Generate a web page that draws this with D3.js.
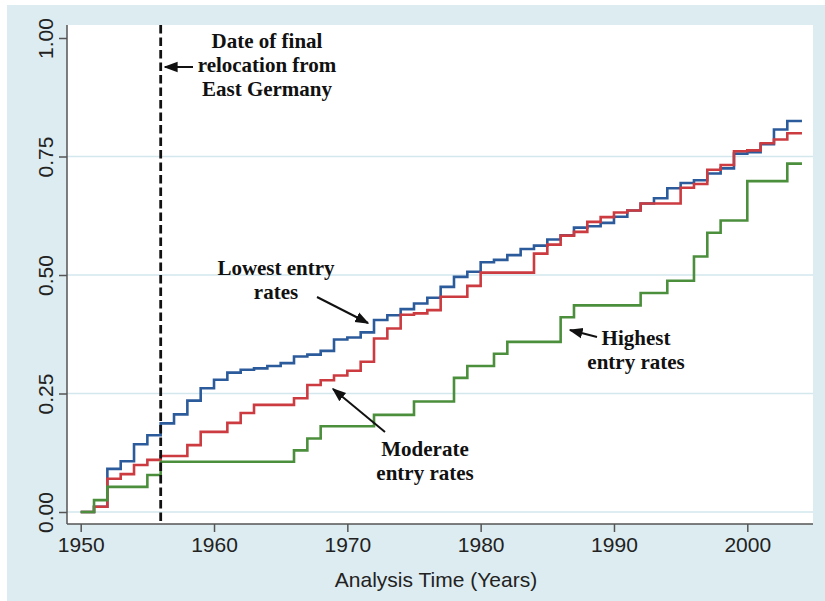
<!DOCTYPE html>
<html>
<head>
<meta charset="utf-8">
<script src="https://cdn.jsdelivr.net/npm/d3@7"></script>
<style>
  body { margin: 0; background: #ffffff; }
  .tick-label { font-family: "Liberation Sans", Arial, sans-serif; font-size: 21px; fill: #222; }
  .note { font-family: "Liberation Serif", "Times New Roman", serif; font-weight: bold; font-size: 21px; fill: #111; }
</style>
</head>
<body>
<svg id="chart" width="825" height="601"></svg>
<script>

// years at which the step functions change (each value holds until the next year)
var years = [1950, 1951, 1952, 1953, 1954, 1955, 1956, 1957, 1958, 1959,
             1960, 1961, 1962, 1963, 1964, 1965, 1966, 1967, 1968, 1969,
             1970, 1971, 1972, 1973, 1974, 1975, 1976, 1977, 1978, 1979,
             1980, 1981, 1982, 1983, 1984, 1985, 1986, 1987, 1988, 1989,
             1990, 1991, 1992, 1993, 1994, 1995, 1996, 1997, 1998, 1999,
             2000, 2001, 2002, 2003];
var endYear = 2004.1;

var lowest = [0, 0.011, 0.091, 0.107, 0.143, 0.162, 0.187, 0.206, 0.235, 0.261,
              0.279, 0.294, 0.300, 0.303, 0.308, 0.314, 0.328, 0.332, 0.340, 0.364,
              0.368, 0.379, 0.405, 0.415, 0.428, 0.440, 0.452, 0.475, 0.496, 0.507,
              0.527, 0.532, 0.542, 0.555, 0.562, 0.575, 0.584, 0.600, 0.603, 0.610,
              0.623, 0.636, 0.651, 0.662, 0.683, 0.694, 0.700, 0.714, 0.725, 0.756,
              0.759, 0.776, 0.807, 0.825];

var moderate = [0, 0.011, 0.070, 0.080, 0.099, 0.110, 0.118, 0.118, 0.141, 0.169,
                0.169, 0.188, 0.209, 0.226, 0.226, 0.226, 0.240, 0.268, 0.278, 0.288,
                0.298, 0.317, 0.366, 0.387, 0.416, 0.419, 0.426, 0.454, 0.454, 0.477,
                0.505, 0.505, 0.505, 0.505, 0.545, 0.564, 0.583, 0.591, 0.612, 0.622,
                0.632, 0.636, 0.651, 0.651, 0.651, 0.684, 0.692, 0.722, 0.732, 0.761,
                0.763, 0.778, 0.786, 0.799];

var highest = [0, 0.025, 0.053, 0.053, 0.053, 0.078, 0.106, 0.106, 0.106, 0.106,
               0.106, 0.106, 0.106, 0.106, 0.106, 0.106, 0.130, 0.155, 0.181, 0.181,
               0.181, 0.181, 0.205, 0.205, 0.205, 0.233, 0.233, 0.233, 0.283, 0.308,
               0.308, 0.334, 0.359, 0.359, 0.359, 0.359, 0.411, 0.436, 0.436, 0.436,
               0.436, 0.436, 0.462, 0.462, 0.488, 0.488, 0.539, 0.589, 0.615, 0.615,
               0.698, 0.698, 0.698, 0.735];

var xTicks = [1950, 1960, 1970, 1980, 1990, 2000];
var yTicks = [0, 0.25, 0.5, 0.75, 1];
var gridTicks = [0, 0.25, 0.5, 0.75];
var relocationYear = 1956;

var svg = d3.select('#chart');

// outer graph region and white plot region
svg.append('rect').attr('x', 7).attr('y', 5).attr('width', 818).attr('height', 596).attr('fill', '#dcecf0');
svg.append('rect').attr('x', 67).attr('y', 25).attr('width', 746).attr('height', 499).attr('fill', '#ffffff');

var xScale = d3.scaleLinear().domain([1950, 2000]).range([80.7, 747.3]);
var yScale = d3.scaleLinear().domain([0, 1]).range([512, 38]);

// grid lines
svg.append('g').selectAll('line')
  .data(gridTicks)
  .enter()
  .append('line')
    .attr('x1', 67).attr('x2', 813)
    .attr('y1', d => yScale(d)).attr('y2', d => yScale(d))
    .attr('stroke', '#d3e7ed').attr('stroke-width', 1.6);

// axes
var xAxis = d3.axisBottom(xScale).tickValues(xTicks).tickFormat(d3.format('d')).tickSize(8).tickSizeOuter(0).tickPadding(5);
var yAxis = d3.axisLeft(yScale).tickValues(yTicks).tickFormat(d3.format('.2f')).tickSize(8).tickSizeOuter(0).tickPadding(6);

var gx = svg.append('g').attr('transform', 'translate(0,524)').call(xAxis);
gx.select('.domain').attr('d', 'M67,0H813');
var gy = svg.append('g').attr('transform', 'translate(67,0)').call(yAxis);
gy.select('.domain').attr('d', 'M0,25V524');

[gx, gy].forEach(g => {
  g.select('.domain').attr('stroke', '#555').attr('stroke-width', 1.5);
  g.selectAll('.tick line').attr('stroke', '#555').attr('stroke-width', 1.5);
  g.selectAll('.tick text').attr('class', 'tick-label').attr('font-size', null).attr('font-family', null).attr('fill', null);
});
gy.selectAll('.tick text')
  .attr('x', null).attr('dy', null)
  .attr('text-anchor', 'middle')
  .attr('transform', 'translate(-14,0) rotate(-90)');

svg.append('text')
  .attr('class', 'tick-label')
  .attr('x', 436).attr('y', 587)
  .attr('text-anchor', 'middle')
  .text('Analysis Time (Years)');

// step lines
function series(vals) {
  var pts = years.map((y, i) => [y, vals[i]]);
  pts.push([endYear, vals[vals.length - 1]]);
  return pts;
}
var line = d3.line()
  .x(d => xScale(d[0]))
  .y(d => yScale(d[1]))
  .curve(d3.curveStepAfter);

var lines = [
  {vals: lowest, color: '#2c5b9b'},
  {vals: moderate, color: '#cc3b40'},
  {vals: highest, color: '#4b8f3c'}
];
lines.forEach(s => {
  svg.append('path')
    .attr('d', line(series(s.vals)))
    .attr('fill', 'none')
    .attr('stroke', s.color)
    .attr('stroke-width', 2.6);
});

// relocation date
svg.append('line')
  .attr('x1', xScale(relocationYear)).attr('x2', xScale(relocationYear))
  .attr('y1', 25).attr('y2', 524)
  .attr('stroke', '#111').attr('stroke-width', 2.8)
  .attr('stroke-dasharray', '8.5,4');

// annotations
svg.append('defs').append('marker')
  .attr('id', 'head')
  .attr('viewBox', '0 0 10 10')
  .attr('refX', 9).attr('refY', 5)
  .attr('markerWidth', 7).attr('markerHeight', 7)
  .attr('markerUnits', 'strokeWidth')
  .attr('orient', 'auto')
  .append('path').attr('d', 'M0,1.2L10,5L0,8.8z').attr('fill', '#111');

var notes = [
  {lines: ['Date of final', 'relocation from', 'East Germany'], x: 267, y: 48},
  {lines: ['Lowest entry', 'rates'], x: 276, y: 275},
  {lines: ['Moderate', 'entry rates'], x: 425, y: 456},
  {lines: ['Highest', 'entry rates'], x: 636, y: 345}
];
notes.forEach(n => {
  var t = svg.append('text').attr('class', 'note').attr('text-anchor', 'middle');
  n.lines.forEach((l, i) => {
    t.append('tspan').attr('x', n.x).attr('y', n.y + i * 24).text(l);
  });
});

var arrows = [
  [193, 67, 165, 67],
  [317, 297, 368, 323],
  [385, 432, 333, 389],
  [597, 337, 570, 330]
];
arrows.forEach(a => {
  svg.append('line')
    .attr('x1', a[0]).attr('y1', a[1]).attr('x2', a[2]).attr('y2', a[3])
    .attr('stroke', '#111').attr('stroke-width', 2)
    .attr('marker-end', 'url(#head)');
});

</script>
</body>
</html>
